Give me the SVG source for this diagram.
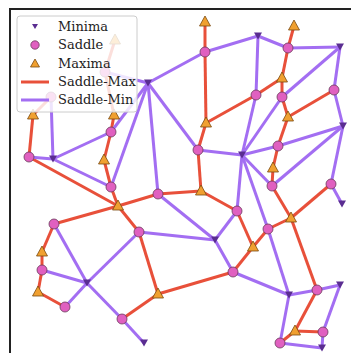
<svg xmlns="http://www.w3.org/2000/svg" xmlns:xlink="http://www.w3.org/1999/xlink" width="351" height="353" viewBox="0 0 351 353">
<style>
.sm{stroke:#e8503a;stroke-width:3;fill:none}
.sn{stroke:#a36ef2;stroke-width:3;fill:none}
.sad{fill:#e060c0;stroke:#6a3a5a;stroke-width:0.8}
.max{fill:#f0a030;stroke:#7a4a10;stroke-width:0.8}
.min{fill:#5a2d91}
.lt{font-family:"DejaVu Serif","Liberation Serif",serif;font-size:13px;fill:#222}
</style>
<defs>
<circle id="sd" r="5" class="sad"/>
<polygon id="mx" points="0,-6 5.5,4 -5.5,4" class="max"/>
<polygon id="mn" points="-4,-3.5 4,-3.5 0,3.5" class="min"/>
</defs>
<rect width="351" height="353" fill="#fff"/>
<g id="connectors">
<g class="sm">
<line x1="205" y1="52" x2="205" y2="22"/>
<line x1="205" y1="52" x2="206" y2="123"/>
<line x1="288" y1="48" x2="294" y2="26"/>
<line x1="288" y1="48" x2="282" y2="78"/>
<line x1="256" y1="95" x2="282" y2="78"/>
<line x1="256" y1="95" x2="206" y2="123"/>
<line x1="282" y1="97" x2="282" y2="78"/>
<line x1="282" y1="97" x2="288" y2="117"/>
<line x1="334" y1="90" x2="288" y2="117"/>
<line x1="278" y1="146" x2="288" y2="117"/>
<line x1="278" y1="146" x2="273" y2="168"/>
<line x1="272" y1="186" x2="273" y2="168"/>
<line x1="272" y1="186" x2="291" y2="218"/>
<line x1="331" y1="184" x2="291" y2="218"/>
<line x1="198" y1="150" x2="206" y2="123"/>
<line x1="198" y1="150" x2="201" y2="191"/>
<line x1="158" y1="194" x2="201" y2="191"/>
<line x1="158" y1="194" x2="118" y2="206"/>
<line x1="111" y1="187" x2="118" y2="206"/>
<line x1="111" y1="187" x2="104" y2="160"/>
<line x1="111" y1="132" x2="104" y2="160"/>
<line x1="111" y1="132" x2="114" y2="115"/>
<line x1="105" y1="72" x2="115" y2="40"/>
<line x1="105" y1="72" x2="114" y2="115"/>
<line x1="51" y1="97" x2="33" y2="115"/>
<line x1="29" y1="157" x2="33" y2="115"/>
<line x1="29" y1="157" x2="118" y2="206"/>
<line x1="237" y1="211" x2="201" y2="191"/>
<line x1="237" y1="211" x2="253" y2="247"/>
<line x1="268" y1="229" x2="291" y2="218"/>
<line x1="268" y1="229" x2="253" y2="247"/>
<line x1="233" y1="272" x2="253" y2="247"/>
<line x1="233" y1="272" x2="158" y2="294"/>
<line x1="139" y1="232" x2="118" y2="206"/>
<line x1="139" y1="232" x2="158" y2="294"/>
<line x1="54" y1="224" x2="118" y2="206"/>
<line x1="54" y1="224" x2="42" y2="252"/>
<line x1="42" y1="270" x2="42" y2="252"/>
<line x1="42" y1="270" x2="38" y2="292"/>
<line x1="65" y1="307" x2="38" y2="292"/>
<line x1="122" y1="319" x2="158" y2="294"/>
<line x1="317" y1="290" x2="291" y2="218"/>
<line x1="317" y1="290" x2="295" y2="331"/>
<line x1="323" y1="332" x2="295" y2="331"/>
<line x1="280" y1="343" x2="295" y2="331"/>
</g>
<g class="sn">
<line x1="205" y1="52" x2="148" y2="83"/>
<line x1="205" y1="52" x2="258" y2="36"/>
<line x1="288" y1="48" x2="258" y2="36"/>
<line x1="288" y1="48" x2="340" y2="47"/>
<line x1="256" y1="95" x2="258" y2="36"/>
<line x1="256" y1="95" x2="242" y2="155"/>
<line x1="282" y1="97" x2="340" y2="47"/>
<line x1="282" y1="97" x2="242" y2="155"/>
<line x1="334" y1="90" x2="340" y2="47"/>
<line x1="334" y1="90" x2="343" y2="126"/>
<line x1="198" y1="150" x2="148" y2="83"/>
<line x1="198" y1="150" x2="242" y2="155"/>
<line x1="278" y1="146" x2="242" y2="155"/>
<line x1="278" y1="146" x2="343" y2="126"/>
<line x1="272" y1="186" x2="242" y2="155"/>
<line x1="272" y1="186" x2="343" y2="126"/>
<line x1="331" y1="184" x2="343" y2="126"/>
<line x1="331" y1="184" x2="342" y2="204"/>
<line x1="105" y1="72" x2="148" y2="83"/>
<line x1="51" y1="97" x2="53" y2="159"/>
<line x1="111" y1="132" x2="53" y2="159"/>
<line x1="111" y1="132" x2="148" y2="83"/>
<line x1="29" y1="157" x2="53" y2="159"/>
<line x1="111" y1="187" x2="53" y2="159"/>
<line x1="111" y1="187" x2="148" y2="83"/>
<line x1="158" y1="194" x2="148" y2="83"/>
<line x1="158" y1="194" x2="215" y2="240"/>
<line x1="237" y1="211" x2="242" y2="155"/>
<line x1="237" y1="211" x2="215" y2="240"/>
<line x1="268" y1="229" x2="242" y2="155"/>
<line x1="268" y1="229" x2="289" y2="295"/>
<line x1="233" y1="272" x2="215" y2="240"/>
<line x1="233" y1="272" x2="289" y2="295"/>
<line x1="139" y1="232" x2="215" y2="240"/>
<line x1="139" y1="232" x2="87" y2="283"/>
<line x1="54" y1="224" x2="87" y2="283"/>
<line x1="42" y1="270" x2="87" y2="283"/>
<line x1="65" y1="307" x2="87" y2="283"/>
<line x1="122" y1="319" x2="87" y2="283"/>
<line x1="122" y1="319" x2="144" y2="343"/>
<line x1="317" y1="290" x2="289" y2="295"/>
<line x1="317" y1="290" x2="340" y2="285"/>
<line x1="323" y1="332" x2="340" y2="285"/>
<line x1="323" y1="332" x2="322" y2="348"/>
<line x1="280" y1="343" x2="289" y2="295"/>
<line x1="280" y1="343" x2="322" y2="348"/>
</g>
</g>
<g id="minima">
<g id="m1"><use xlink:href="#mn" x="258" y="36"/></g>
<g id="m2"><use xlink:href="#mn" x="340" y="47"/></g>
<g id="m3"><use xlink:href="#mn" x="148" y="83"/></g>
<g id="m4"><use xlink:href="#mn" x="53" y="159"/></g>
<g id="m5"><use xlink:href="#mn" x="242" y="155"/></g>
<g id="m6"><use xlink:href="#mn" x="343" y="126"/></g>
<g id="m7"><use xlink:href="#mn" x="215" y="240"/></g>
<g id="m8"><use xlink:href="#mn" x="87" y="283"/></g>
<g id="m9"><use xlink:href="#mn" x="144" y="343"/></g>
<g id="m10"><use xlink:href="#mn" x="342" y="204"/></g>
<g id="m11"><use xlink:href="#mn" x="289" y="295"/></g>
<g id="m12"><use xlink:href="#mn" x="340" y="285"/></g>
<g id="m13"><use xlink:href="#mn" x="322" y="348"/></g>
</g>
<g id="maxima">
<g id="M1"><use xlink:href="#mx" x="205" y="22"/></g>
<g id="M2"><use xlink:href="#mx" x="294" y="26"/></g>
<g id="M3"><use xlink:href="#mx" x="33" y="115"/></g>
<g id="M4"><use xlink:href="#mx" x="114" y="115"/></g>
<g id="M5"><use xlink:href="#mx" x="104" y="160"/></g>
<g id="M6"><use xlink:href="#mx" x="115" y="40"/></g>
<g id="M7"><use xlink:href="#mx" x="206" y="123"/></g>
<g id="M8"><use xlink:href="#mx" x="282" y="78"/></g>
<g id="M9"><use xlink:href="#mx" x="288" y="117"/></g>
<g id="M10"><use xlink:href="#mx" x="273" y="168"/></g>
<g id="M11"><use xlink:href="#mx" x="118" y="206"/></g>
<g id="M12"><use xlink:href="#mx" x="201" y="191"/></g>
<g id="M13"><use xlink:href="#mx" x="42" y="252"/></g>
<g id="M14"><use xlink:href="#mx" x="38" y="292"/></g>
<g id="M15"><use xlink:href="#mx" x="158" y="294"/></g>
<g id="M16"><use xlink:href="#mx" x="291" y="218"/></g>
<g id="M17"><use xlink:href="#mx" x="253" y="247"/></g>
<g id="M18"><use xlink:href="#mx" x="295" y="331"/></g>
</g>
<g id="saddles">
<g id="S1"><use xlink:href="#sd" x="205" y="52"/></g>
<g id="S2"><use xlink:href="#sd" x="288" y="48"/></g>
<g id="S3"><use xlink:href="#sd" x="256" y="95"/></g>
<g id="S4"><use xlink:href="#sd" x="282" y="97"/></g>
<g id="S5"><use xlink:href="#sd" x="334" y="90"/></g>
<g id="S6"><use xlink:href="#sd" x="198" y="150"/></g>
<g id="S7"><use xlink:href="#sd" x="278" y="146"/></g>
<g id="S8"><use xlink:href="#sd" x="105" y="72"/></g>
<g id="S9"><use xlink:href="#sd" x="51" y="97"/></g>
<g id="S10"><use xlink:href="#sd" x="111" y="132"/></g>
<g id="S11"><use xlink:href="#sd" x="29" y="157"/></g>
<g id="S12"><use xlink:href="#sd" x="111" y="187"/></g>
<g id="S13"><use xlink:href="#sd" x="158" y="194"/></g>
<g id="S14"><use xlink:href="#sd" x="54" y="224"/></g>
<g id="S15"><use xlink:href="#sd" x="139" y="232"/></g>
<g id="S16"><use xlink:href="#sd" x="42" y="270"/></g>
<g id="S17"><use xlink:href="#sd" x="65" y="307"/></g>
<g id="S18"><use xlink:href="#sd" x="122" y="319"/></g>
<g id="S19"><use xlink:href="#sd" x="237" y="211"/></g>
<g id="S20"><use xlink:href="#sd" x="331" y="184"/></g>
<g id="S21"><use xlink:href="#sd" x="268" y="229"/></g>
<g id="S22"><use xlink:href="#sd" x="233" y="272"/></g>
<g id="S23"><use xlink:href="#sd" x="317" y="290"/></g>
<g id="S24"><use xlink:href="#sd" x="323" y="332"/></g>
<g id="S25"><use xlink:href="#sd" x="280" y="343"/></g>
<g id="S26"><use xlink:href="#sd" x="272" y="186"/></g>
</g>
<g id="frame" stroke="#222" stroke-width="2" fill="none">
<path d="M10,353 V9 H351"/>
</g>
<g id="legend">
<rect x="17" y="16" width="120" height="96" rx="3" fill="#ffffff" fill-opacity="0.82" stroke="#cccccc" stroke-width="1"/>
<polygon points="32,24 38,24 35,29" class="min"/>
<circle cx="35" cy="45" r="4.2" class="sad"/>
<polygon points="35,59 39.5,67 30.5,67" class="max"/>
<line x1="21" y1="82" x2="49" y2="82" class="sm"/>
<line x1="21" y1="100" x2="49" y2="100" class="sn"/>
<text class="lt" x="58" y="31">Minima</text>
<text class="lt" x="58" y="49.3">Saddle</text>
<text class="lt" x="58" y="67.6">Maxima</text>
<text class="lt" x="58" y="86">Saddle-Max</text>
<text class="lt" x="58" y="104.3">Saddle-Min</text>
</g>
</svg>
